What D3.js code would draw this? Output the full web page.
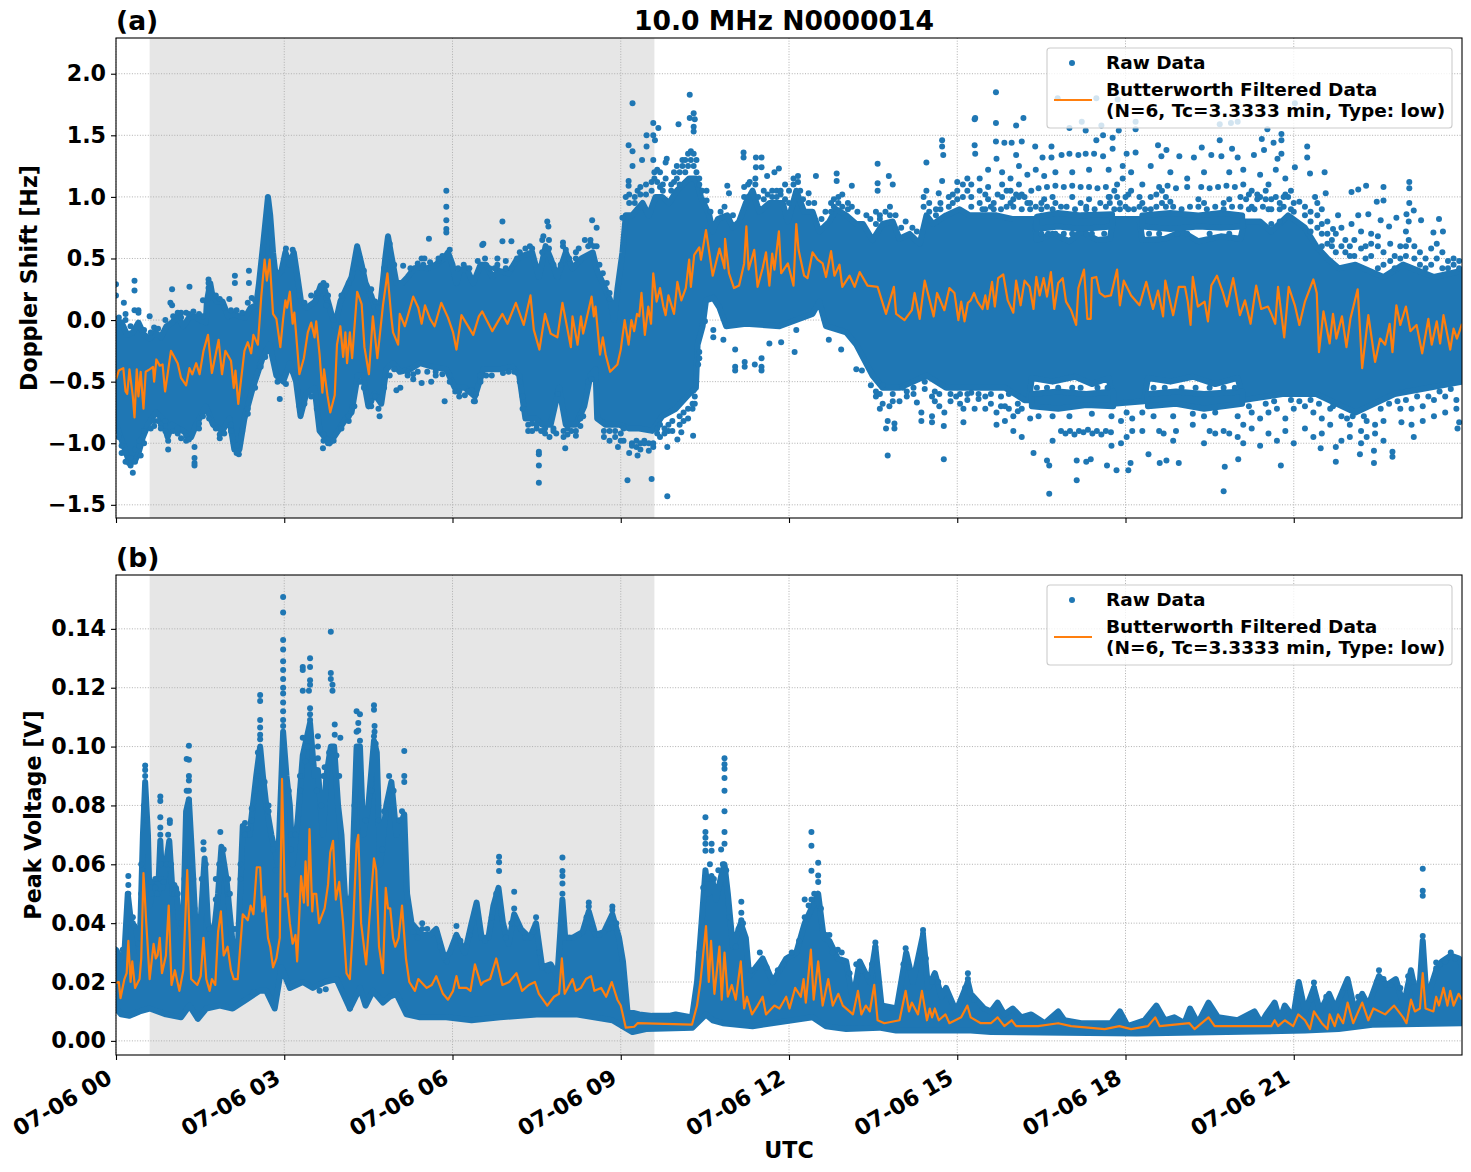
<!DOCTYPE html>
<html>
<head>
<meta charset="utf-8">
<script src="https://cdn.jsdelivr.net/npm/d3@7"></script>
<style>
html,body{margin:0;padding:0;background:#fff}
text{font-family:"DejaVu Sans",sans-serif;font-weight:700;fill:#000}
</style>
</head>
<body>
<svg id="fig" width="1471" height="1172"></svg>
<script>
// Time axis, hours of the day
const hourTicks = [0,3,6,9,12,15,18,21];
const hourLabels = ["07-06 00","07-06 03","07-06 06","07-06 09","07-06 12","07-06 15","07-06 18","07-06 21"];
const spanHours = [0.6,9.6];
const dopplerTicks = [2,1.5,1,0.5,0,-0.5,-1,-1.5];
const voltageTicks = [0.14,0.12,0.10,0.08,0.06,0.04,0.02,0];

// Doppler shift: upper and lower edge of the densely packed raw samples [hour, Hz]
const denseTopA = [[0,-.05],[.1,-.02],[.2,-.12],[.3,-.1],[.4,-.02],[.5,-.12],[.6,-.15],[.7,-.1],[.8,-.14],[.9,-.05],[1,-.02],[1.1,.03],[1.2,-.05],[1.3,.02],[1.4,.03],[1.5,0],[1.6,-.02],[1.62,.15],[1.68,.3],[1.72,.2],[1.8,.15],[1.9,.15],[2,.03],[2.1,.05],[2.2,.03],[2.3,.02],[2.4,.1],[2.5,.12],[2.55,.3],[2.62,.6],[2.71,1],[2.75,.85],[2.8,.55],[2.85,.35],[2.95,.4],[3.02,.55],[3.1,.45],[3.17,.55],[3.22,.4],[3.3,.15],[3.4,.1],[3.55,.15],[3.65,.28],[3.72,.25],[3.8,.12],[3.9,-.05],[3.95,.05],[4,.15],[4.1,.25],[4.2,.35],[4.3,.6],[4.38,.45],[4.45,.3],[4.55,.2],[4.65,.05],[4.72,.15],[4.8,.5],[4.85,.68],[4.9,.55],[5,.3],[5.1,.3],[5.2,.35],[5.32,.42],[5.45,.43],[5.55,.42],[5.7,.45],[5.85,.5],[5.92,.55],[6,.45],[6.07,.3],[6.13,.4],[6.25,.42],[6.37,.3],[6.5,.45],[6.6,.45],[6.71,.35],[6.83,.4],[7,.38],[7.13,.48],[7.24,.52],[7.42,.55],[7.54,.35],[7.66,.6],[7.75,.5],[7.87,.35],[8.02,.55],[8.14,.42],[8.3,.5],[8.5,.55],[8.58,.4],[8.7,.28],[8.82,.15],[8.88,0],[8.94,.25],[9.03,.55],[9.09,.85],[9.2,.85],[9.39,.95],[9.5,.85],[9.62,1],[9.74,1],[9.86,.95],[10,1.05],[10.22,1.15],[10.34,1.15],[10.43,1],[10.58,.85],[10.64,.72],[10.73,.82],[10.9,.85],[11,.75],[11.11,.8],[11.23,.95],[11.35,1.05],[11.47,.88],[11.65,.95],[11.89,.95],[11.98,.8],[12.13,1.05],[12.27,.88],[12.42,.88],[12.54,.72],[12.72,.8],[12.84,.9],[13.02,.85],[13.2,.78],[13.32,.78],[13.49,.65],[13.67,.78],[13.85,.8],[13.97,.66],[14.15,.7],[14.33,.62],[14.45,.85],[14.57,.78],[14.8,.85],[15.04,.9],[15.22,.85],[15.4,.85],[15.7,.85],[16,.82],[16.38,.82],[16.42,.65],[16.7,.7],[17,.64],[17.2,.72],[17.5,.65],[17.72,.66],[17.78,.82],[18.25,.82],[18.3,.65],[18.7,.66],[19,.72],[19.3,.64],[19.7,.68],[20.05,.66],[20.12,.8],[20.4,.8],[20.6,.72],[20.9,.85],[21.2,.75],[21.4,.6],[21.6,.5],[21.8,.42],[22.1,.45],[22.6,.35],[22.95,.45],[23.5,.35],[24,.4]];
const denseBottomA = [[0,-.85],[.12,-1],[.21,-1.12],[.3,-1.15],[.39,-1.1],[.48,-.95],[.57,-.85],[.71,-.75],[.83,-.8],[.92,-.95],[1,-.85],[1.19,-.9],[1.34,-.95],[1.43,-.85],[1.6,-.7],[1.73,-.85],[1.9,-.9],[2.02,-.8],[2.11,-1.05],[2.2,-1.05],[2.29,-.8],[2.44,-.55],[2.62,-.3],[2.74,-.2],[2.86,-.45],[2.98,-.5],[3.1,-.35],[3.21,-.5],[3.29,-.78],[3.39,-.6],[3.54,-.55],[3.63,-.9],[3.81,-1],[3.96,-.9],[4.1,-.8],[4.2,-.75],[4.31,-.45],[4.4,-.45],[4.5,-.7],[4.61,-.6],[4.73,-.68],[4.82,-.4],[4.94,-.35],[5.06,-.42],[5.24,-.4],[5.42,-.35],[5.65,-.38],[5.89,-.4],[6.04,-.55],[6.22,-.55],[6.4,-.62],[6.55,-.4],[6.73,-.4],[6.83,-.4],[7.07,-.38],[7.19,-.45],[7.3,-.8],[7.48,-.8],[7.6,-.85],[7.75,-.85],[7.9,-.55],[8.02,-.85],[8.2,-.85],[8.35,-.7],[8.46,-.45],[8.55,-.4],[8.58,-.8],[8.73,-.85],[8.97,-.85],[9.15,-.88],[9.33,-.88],[9.56,-.9],[9.74,-.78],[9.98,-.72],[10.22,-.6],[10.34,-.55],[10.37,-.2],[10.46,-.05],[10.52,.16],[10.65,.18],[10.76,.1],[10.88,-.05],[11.23,-.03],[11.83,-.05],[12.42,.05],[12.54,.15],[12.66,-.05],[13.02,-.1],[13.2,-.2],[13.49,-.45],[13.67,-.55],[13.97,-.55],[14.21,-.5],[14.45,-.45],[14.8,-.55],[15.4,-.55],[15.85,-.55],[16.2,-.65],[16.28,-.65],[16.33,-.47],[16.7,-.5],[17.1,-.46],[17.4,-.52],[17.7,-.47],[17.78,-.68],[18.33,-.66],[18.4,-.47],[18.8,-.5],[19.2,-.46],[19.6,-.52],[20,-.47],[20.1,-.65],[20.8,-.6],[21.4,-.6],[22.1,-.75],[22.8,-.6],[24,-.5]];
// Doppler shift: rows of samples that stand apart from the central mass [hour, top, bottom]
const stripeTopA = [[16.42,.84,.74],[16.8,.87,.76],[17.2,.85,.74],[17.76,.86,.76]];
const stripeTopA2 = [[18.3,.85,.76],[18.8,.87,.74],[19.3,.85,.76],[19.7,.87,.75],[20.08,.85,.76]];
const stripeBottomA = [[16.33,-.6,-.7],[16.8,-.58,-.72],[17.3,-.6,-.69],[17.78,-.58,-.7]];
const stripeBottomA2 = [[18.4,-.6,-.7],[18.9,-.58,-.68],[19.4,-.6,-.72],[20.08,-.58,-.68]];

// Doppler shift: separately visible samples, each row is [hour, value, value, ...]
const sparseA = [[0,.29,.2],[.33,.32,.24,.08],[.14,.14],[.4,.08,.06],[.17,.05],[.6,.03],[1,.25,.12],[.97,.14],[1.31,.27],[1.65,.33,.3,.26],[1.55,.16],[2.12,.36,.3],[2.37,.4,.3],[2.02,.17],[2.42,.18],[1.16,.06],[.3,-1.24],[.23,-1.16],[.44,-1.1],[.35,-1.13],[.93,-.98,-1.05],[1.4,-1.03,-1.12,-1.16,-1.18],[2.19,-1.09],[2.92,-.64],[3.69,-1.04],[4.7,-.78],[3.75,.28,.18,.12],[5.58,.66],[5.89,1.05,.92,.81,.74,.71],[5.95,.57],[6.55,.62],[5.86,-.66],[6.4,-.66],[6.22,-.61],[6.34,-.57],[5,-.57],[5.07,-.55],[5.45,-.51],[5.62,-.5],[5.12,.44],[6.79,.42],[5.45,.5],[5.5,.5],[6.89,.8,.64],[7.05,.64],[6.53,.61],[7.69,.8],[7.71,.76],[8.49,.81],[8.57,.75,.6],[8.36,.65],[7.42,.58],[8.02,.57],[7.54,-1.32,-1.18,-1.09,-1.07],[7.73,-.95],[8.01,-1.04],[7.85,-.92],[9.12,-1.3],[9.55,-1.29],[9.83,-1.43],[9.15,-1.08],[9.3,-1.1],[8.95,-1.03],[10.29,-.94],[9.83,-1.03],[10.01,-.97],[10.08,-.91],
[10.23,1.83,1.64],[9.21,1.76,1.37,1.25],[10.3,1.68,1.57,1.53],[10.32,1.63],[9.58,1.6,1.5,1.3],[9.67,1.56],[10.03,1.59],[9.46,1.5,1.41],[9.61,1.46],[9.14,1.42,1.13,1.09],[9.38,1.3],[9.82,1.31],[9.09,1],[9.03,.83],[10.53,1.05,.97],[10.9,1.09],[10.93,1.03],[11.19,1.36,1.32],[11.41,1.32,1.24],[11.51,1.32,1.24],[11.74,1.2],[11.82,1.23],[11.61,1.17],[12.48,1.17],[12.85,1.19,1.13],[13.12,1.09],[13.58,1.27,1.11,1.05],[13.78,1.17],[13.85,1.1],[14.45,1.28,1.05],[14.73,1.46,1.41,1.13],[14.75,1.34],[15.31,1.63,1.42],[14.67,1.03],
[10.4,-.26,-.31],[10.38,-.36],[10.3,-.57],[10.5,-.01],[10.65,-.08,-.14],[10.83,-.16],[11.04,-.24,-.38,-.41],[11.21,-.34,-.38],[11.39,-.36],[11.51,-.31,-.38,-.41],[12.1,-.26],[12.13,-.08],[11.65,-.19],[11.86,-.18],[12.71,-.16],[12.93,-.24],[13.2,-.4],[13.3,-.41],[13.46,-.53],[13.67,-.53,-.68],[13.76,-1.1,-.82],[13.88,-.84,-.88],[13.73,-.88],[13.79,-.7],[13.97,-.66],[14.03,-.55],[14.28,-.67],[14.36,-.75,-.82],[14.55,-.78,-.83,-.62],[14.76,-.86,-1.13],[14.77,-.75],[15.11,-.83,-.72],[15.31,-.72],[14.98,-.62],[15.25,-.59],
[15.69,1.85,1.6,1.45],[15.32,1.64,1.35],[16.05,1.58,1.34],[16.18,1.64],[15.84,1.44],[15.97,1.44],[16.15,1.45],[15.7,1.31],[16.39,1.41],[16.68,1.41,1.32],[16.52,1.32],[16.86,1.34],[17,1.35,1.56],[17.16,1.34],[17.29,1.35,1.54],[17.44,1.35],[17.6,1.33,1.5],[16.79,1.8],[17.22,1.61],[17.57,1.58],[17.48,1.8,1.46],[17.86,1.79],[17.77,1.48,1.39],[17.88,1.54],[18.18,1.61,1.55,1.36],[18.02,1.35],[18.58,1.42],[18.73,1.38],[18.64,1.33],[18.96,1.33],[19.36,1.4],[19.22,1.32],[19.68,1.46,1.59],[19.88,1.6],[20,1.61,1.32],[19.9,1.39],[19.53,1.34],[19.71,1.33],[20.53,1.55],[20.78,1.51,1.46,1.35],[21.02,1.76,1.24],[20.64,1.44],[20.43,1.47],[20.47,1.38],[20.29,1.34],[20.71,1.31],[21.24,1.41,1.32],[21.55,1.2],[21.29,1.19],
[16.45,1.07],[16.6,1.08],[16.75,1.09],[16.9,1.08],[17.05,1.09],[17.2,1.08],[17.35,1.08],[17.5,1.07],[17.65,1.08],[18.6,1.08],[18.75,1.09],[18.9,1.07],[19.1,1.08],[19.35,1.08],[19.5,1.07],[19.65,1.08],[19.8,1.09],[19.95,1.08],
[22.29,1.09],[22.6,1.08,.97],[23.06,1.12,1.07,.95],[22.03,1.04,.78],[22.15,1.06,.85],[21.57,1.03],[22.48,.96],[23.14,.89],[23.01,.86],[22.83,.83],[23.59,.82],[23.27,.81],[21.79,.85],[22.33,.86],[22.55,.81],[22.7,.76],[23.49,.71],[23.66,.72],[21.7,.74],[21.5,.9],[21.38,1],[20.9,1],[21.1,.96],
[15.4,1.15,1.05,.95],[15.55,1.22,1.08,.98],[15.6,.92],[15.8,1.2,1.1,1],[15.95,1.15,1.05,.95],[16.1,1.25,1.1,1],[16.25,1.18,.95],[16.32,1.05],[16.4,1.22],[16.55,1.17,.98],[16.75,1.2,.95],[17.05,1.2,1],[17.35,1.22,.98],[17.7,1.22,1],[17.85,1.1,1],[17.95,1.25,1.15],[18.1,1.2,1.05],[18.3,1.1,.95],[18.45,1.25,1],[18.8,1.2,.96],[19.1,1.15],[19.4,1.2,.95],[19.85,1.2,.98],[20.1,1.22,1.1],[20.25,1.05,.92],[20.4,1.18,1],[20.55,1.1,.9],[20.68,1.22,1],[20.85,1.15,1.02],
[16.64,-1.41,-1.18],[19.75,-1.39],[17.13,-1.3,-1.14],[16.6,-1.14],[16.36,-1.08],[17.3,-1.15],[17.38,-1.13],[17.67,-1.18],[17.84,-1.22],[18.05,-1.22],[18.09,-1.16],[18.41,-1.09],[18.61,-1.16],[18.73,-1.14],[18.95,-1.16],[19.77,-1.19],[20.01,-1.13],[20.77,-1.18],[21.75,-1.03,-1.15],[21.48,-1.04],[22.18,-1.09],[22.43,-1.06,-1.16],[22.76,-1.07,-1.11],[23.14,-.95],[22.92,-.83],[23.92,-.88],[23.95,-.83],
[16.85,-.9],[16.93,-.92],[17.01,-.9],[17.09,-.93],[17.17,-.9],[17.25,-.91],[17.33,-.89],[17.41,-.92],[17.49,-.9],[17.57,-.93],[17.65,-.9],[17.74,-.91],[18.6,-.9],[18.68,-.92],[18.9,-.9],[19.5,-.9],[19.6,-.92],[19.75,-.9],[19.85,-.92],[15.7,-.75,-.85],[15.85,-.7,-.82],[16,-.78,-.9],[16.15,-.72,-.95],[16.3,-.8],[16.45,-.78],[16.7,-.78,-.98],[17,-.78],[17.4,-.76],[17.75,-.78,-1.02],[17.92,-.82,-1],[18.02,-.75,-.95],[18.12,-.8,-.9],[18.3,-.75,-.9],[18.5,-.78],[18.85,-.78,-.98],[19.2,-.76,-.85],[19.4,-.78,-1],[19.6,-.75],[20,-.78,-.95],[20.1,-.85,-1],[20.25,-.75,-.88],[20.4,-.8,-1.02],[20.55,-.75,-.92],[20.7,-.72,-.98],[20.85,-.8,-.9],[21,-.72,-1],[21.2,-.7,-.88],[21.35,-.75,-.95],[21.5,-.8,-.92],[21.65,-.72,-.85],[21.85,-.78,-.98],[22,-.85,-.95],[22.2,-.9,-1],[22.3,-.82,-.95],[22.45,-.85,-.92],[22.6,-.82,-.98],[22.9,-.72],[23.1,-.72,-.85],[23.3,-.7,-.82],[23.5,-.65,-.78],[23.7,-.62,-.75],[23.9,-.65,-.72]];

// Doppler shift: samples along the rim of the dense band, each row is [hour, value, value, ...]
const rimA = [[.05,-.9,-.95,.02,-.02],[.1,-1.02,-1.08],[.17,-1.08,-1.15,0],[.26,-1.18,-1.12,-.05],[.34,-1.05,-1.15],[.42,-1.02,-.98],[.5,-.9,-1,-.08],[.62,-.88,-.1],[.68,-.82,-.86,-.06],[.75,-.82,-.07],[.8,-.85,-.88],[.88,-.82,-.9,0],[1.02,-.9,.03],[1.1,-.92,-.88,.06],[1.16,-.96,.02],[1.25,-.94,-.98,.06],[1.3,-.97,.05],[1.38,.07],[1.48,-.88,-.84,.05],[1.55,-.78,.03],[1.66,-.8],[1.78,-.88,.2],[1.85,-.93,-.96,.17],[1.93,-.92,.1],[2.05,-.9,-.85,.08],[2.15,-1.08,-1.02,.08],[2.25,-.9,.06],[2.35,-.72,-.76,.14],[2.48,-.55,.16],[2.58,-.38],[2.66,-.3],[2.88,-.5],[3.03,-.52,.58],[3.15,-.42,.57],[3.27,-.7,.2],[3.36,-.68,.14],[3.48,-.62,.2],[3.58,-.72,.22],[3.7,-.98,-.93,.3],[3.78,-1,.2],[3.88,-.98,0],[4.02,-.88,.2],[4.15,-.82,-.78,.3],[4.25,-.7,.42],[4.35,-.5,.5],[4.42,-.55,.4],[4.55,-.7,-.66,.25],[4.62,-.62,.15],[4.68,-.72,.1],[4.78,-.55,.42],[4.88,-.45,.62],[4.96,-.4,.45],
[5.2,-.42,-.45],[5.25,.42],[5.3,-.48,-.44],[5.38,.46,-.42],[5.48,.45],[5.55,-.42],[5.6,.47],[5.7,-.42,-.45],[5.75,.48,.5],[5.82,.52,-.44],[5.95,-.5,-.45],[6.05,-.58],[6.1,.42],[6.12,-.58,-.62],[6.2,.45],[6.28,-.58],[6.3,.42],[6.38,-.66],[6.42,-.6],[6.45,.48],[6.5,-.45,-.5],[6.58,.5],[6.6,-.45],[6.66,.42],[6.7,-.45],[6.75,.42],[6.8,.5,.45],[6.9,-.43],[6.95,.42,.48],[7,-.42],[7.05,.42],[7.1,-.42],[7.15,.5],[7.2,.55,-.5],[7.25,-.72,-.62],[7.3,.58],[7.35,-.85,-.9],[7.38,.6],[7.42,-.84,-.9],[7.48,.45],[7.5,-.88,-.85],[7.58,-.9],[7.6,.55,.65],[7.62,.68],[7.65,-.92,-.88],[7.72,.65,.58],[7.8,.45,-.9,-.88],[7.88,-.6],[7.93,.45],[7.97,.6,.63],[7.98,-.95,-.9],[8.05,-.88,-.93],[8.08,.5],[8.12,-.9],[8.2,.5,.55,-.9,-.94],[8.25,.58],[8.28,-.8,-.86],[8.33,-.78],[8.42,.6,-.5],[8.46,.62,.65],[8.48,-.48],[8.52,.6],[8.62,.45],[8.68,.38],[8.75,.3],[8.8,.22,.17],
[8.7,-.9,-.95],[8.8,-.9,-.98],[8.9,-.9,-.95],[9,-.92,-.98],[9.05,-.88,-.98],[9.2,-1,-1.02],[9.28,-.98,-1.03],[9.35,-1,-1.05],[9.42,-.98,-1],[9.5,-1,-1.06],[9.58,-1.03,-1],[9.65,-.88,-.92],[9.7,-.85,-.95],[9.78,-.92,-.88],[9.85,-.85,-.9],[9.92,-.82,-.9],[10.05,-.78,-.85],[10.12,-.75,-.82],[10.2,-.72,-.8],[10.28,-.68,-.72],[10.32,-.62,-.68],
[9.15,.95,1.02],[9.25,1,.95],[9.3,1.05],[9.35,1.02,1.08],[9.45,1.02,1.1],[9.55,1.05,1.12],[9.6,1.15,1.2],[9.65,1.12,1.22],[9.7,1.08,1.2],[9.75,1.1,1.05],[9.8,1.15,1.28],[9.9,1.05,1.1],[9.95,1.12,1.2],[10,1.15,1.25],[10.05,1.2,1.1],[10.1,1.25,1.3],[10.15,1.2,1.3],[10.2,1.25,1.35],[10.25,1.3,1.37],[10.3,1.25,1.35],[10.35,1.3,1.2],[10.4,1.1,1.15],[10.45,1.05],
[10.6,.88],[10.78,.88],[10.85,.92],[11,.85],[11.2,1,1.08],[11.27,1,1.1],[11.3,1.12],[11.4,1.1,1.15],[11.45,1],[11.55,.98,1.05],[11.62,1.02],[11.7,1,1.05],[11.78,1,1.05],[11.85,1.02,1.05],[11.93,.98,1.1],[12,.95,1.05],[12.08,1.1,1.15],[12.16,1.12,1.17],[12.2,1.05],[12.25,.98],[12.35,.95,1.03],[12.45,.95],[12.58,.82],[12.65,.88],[12.75,.88,.95],[12.8,.92,.98],[12.88,.95,1],[12.95,.92,1.02],[13.05,.95,.9],[13.12,.92],[13.22,.88],[13.38,.85],[13.45,.82],[13.55,.78,.88],[13.62,.85,.82],[13.72,.88],[13.8,.85,.92],[13.9,.85],[14,.75],[14.08,.8],[14.2,.75],[14.28,.72],[14.4,.92,1],[14.5,.95,.88],[14.62,.9,.85],[14.7,.95,.9],[14.85,.92,1],[14.92,1.02,.95],[15,1.05,.98,1.12],[15.1,1,1.1],[15.18,1.05,1.15],[15.25,1.1,1,.92],
[15.45,.9],[15.5,1.02,.9],[15.65,.95,.9],[15.72,1.02],[15.78,.9],[15.88,.92,1.05],[16,.92,.98],[16.05,1.02],[16.15,.9,1.02],[16.2,1],
[16.3,.9,.95],[16.4,.92],[16.5,.95,.9],[16.6,.92],[16.7,.9,1],[16.85,.92],[16.95,.92],[17.1,.9],[17.2,.95],[17.3,.92,.9],[17.45,.9],[17.55,.95],[17.65,.92],[17.72,.95,1],[17.8,.9,1.05],[17.9,.9,.95],[18,.92,1],[18.05,1.02,.9],[18.15,.9],[18.25,.92,1],[18.35,.9],[18.45,.9],[18.55,.92,1.02],[18.65,1.05,.95],[18.72,.92,1],[18.85,.92],[19,.9],[19.15,.92],[19.3,.92,.98],[19.45,.9],[19.6,.92],[19.75,.95,.9],[19.9,.92],[20.05,.92,1],[20.15,.98],[20.2,.9,1.02],[20.3,.9],[20.35,.98,1.02],[20.45,.92],[20.5,.98,1.05],[20.6,.9,.98,.78],[20.75,.9,.95,.8],[20.82,1,.92],[20.95,.9,1.05],[21,.95,.88],[21.2,.85,.92],[21.3,.8,.88,.72],[21.42,.85,.75,.95],[21.5,.78,.7,.6],[21.6,.62,.7,.8],[21.68,.6,.65],[21.75,.55,.7],[21.85,.6,.75],[21.92,.55,.65],[22,.6,.52],[22.08,.65,.52],[22.2,.58,.72],[22.28,.6,.5],[22.38,.52,.7,.62],[22.5,.6,.42,.68],[22.6,.55,.45],[22.72,.62,.48],[22.8,.52,.42],[22.9,.6,.5],[23,.72,.6,.52],[23.05,.8,.65],[23.15,.6,.5],[23.25,.55,.45],[23.35,.5,.42],[23.45,.58,.45],[23.55,.62,.5],[23.65,.55,.42],[23.75,.48,.42],[23.85,.45,.5],[23.95,.42,.48],
[16.5,.7],[16.62,.7],[16.75,.7],[16.9,.7],[17.05,.7],[17.3,.7],[17.4,.7],[17.62,.7],[18.42,.7],[18.6,.7],[18.92,.7],[19.1,.7],[19.5,.7],[19.85,.7],
[16.42,-.55],[16.6,-.55],[16.8,-.55],[17.05,-.55],[17.2,-.55],[17.5,-.55],[17.68,-.55],[18.5,-.55],[18.7,-.55],[19,-.55],[19.25,-.55],[19.5,-.55],[19.75,-.55],[19.95,-.55],
[13.55,-.58,-.62],[13.62,-.6,-.72],[13.85,-.6,-.66],[14.1,-.58,-.62],[14.22,-.55,-.6],[14.42,-.5,-.56],[14.6,-.58,-.66],[14.68,-.6,-.7],[14.88,-.6,-.66],[15.05,-.6,-.68],[15.18,-.6,-.65],[15.38,-.6,-.64],[15.5,-.62,-.72],[15.6,-.6,-.68],[15.78,-.62,-.7],[15.92,-.6,-.72],[16.08,-.68,-.74],[20.2,-.7],[20.5,-.68],[20.65,-.66],[20.95,-.65],[21.1,-.66],[21.3,-.65],[21.45,-.68],[21.7,-.7],[21.95,-.8],[22.05,-.78],[22.25,-.78],[22.55,-.72],[22.7,-.68],[22.85,-.66],[23,-.65],[23.2,-.62],[23.4,-.62],[23.6,-.58],[23.8,-.56]];

// Doppler shift: low-pass filtered series [hour, Hz]
const filteredA = [[0,-.48],[.05,-.41],[.13,-.39],[.17,-.58],[.2,-.6],[.24,-.4],[.3,-.62],[.33,-.79],[.37,-.4],[.4,-.62],[.44,-.42],[.49,-.72],[.53,-.42],[.6,-.4],[.66,-.38],[.68,-.5],[.72,-.32],[.78,-.37],[.83,-.36],[.875,-.58],[.98,-.25],[1.1,-.35],[1.16,-.47],[1.25,-.53],[1.31,-.39],[1.36,-.44],[1.43,-.35],[1.49,-.44],[1.56,-.25],[1.64,-.12],[1.71,-.43],[1.83,-.16],[1.89,-.44],[1.95,-.25],[2.05,-.33],[2.1,-.55],[2.13,-.41],[2.18,-.68],[2.29,-.25],[2.35,-.18],[2.41,-.27],[2.45,-.12],[2.53,-.2],[2.59,.19],[2.65,.49],[2.69,.32],[2.74,.49],[2.8,.05],[2.86,.01],[2.93,-.22],[2.98,.01],[3.02,.16],[3.05,.1],[3.1,.23],[3.15,-.03],[3.18,.06],[3.27,-.44],[3.35,-.31],[3.42,-.1],[3.48,-.02],[3.54,-.14],[3.57,-.01],[3.63,-.28],[3.68,-.59],[3.71,-.4],[3.77,-.61],[3.82,-.75],[3.9,-.61],[3.94,-.2],[4,-.05],[4.05,-.3],[4.09,-.1],[4.12,-.35],[4.17,-.1],[4.21,-.31],[4.3,.23],[4.38,.13],[4.43,-.22],[4.51,-.44],[4.58,.03],[4.66,-.31],[4.76,.12],[4.84,.38],[4.91,.02],[4.94,-.1],[5.03,-.2],[5.06,.05],[5.15,-.05],[5.3,.19],[5.39,.1],[5.45,-.03],[5.51,.12],[5.6,.01],[5.68,-.05],[5.8,.14],[5.92,.02],[6.01,-.1],[6.07,-.24],[6.16,.04],[6.37,-.12],[6.47,.03],[6.53,.07],[6.71,-.09],[6.89,.05],[6.98,-.03],[7.13,.14],[7.27,-.04],[7.39,.2],[7.45,-.08],[7.55,-.24],[7.65,.05],[7.75,-.11],[7.87,-.14],[7.96,.14],[8.11,-.22],[8.14,.03],[8.23,-.2],[8.29,.03],[8.33,-.11],[8.48,.19],[8.52,.03],[8.55,.11],[8.63,-.28],[8.68,-.14],[8.73,-.28],[8.81,-.42],[8.94,-.36],[9,-.24],[9.07,0],[9.14,-.2],[9.19,0],[9.24,-.09],[9.29,.05],[9.33,.03],[9.37,.22],[9.43,-.12],[9.49,.11],[9.54,-.03],[9.58,.38],[9.64,.15],[9.7,.26],[9.76,.11],[9.8,.04],[9.85,.2],[9.95,.05],[10.01,.31],[10.08,.16],[10.16,.26],[10.22,.49],[10.25,.27],[10.31,.53],[10.4,.59],[10.43,.49],[10.52,.73],[10.64,.36],[10.76,.58],[10.85,.42],[10.86,.66],[10.93,.38],[11.02,.26],[11.11,.28],[11.2,.46],[11.24,.76],[11.28,.41],[11.38,.57],[11.44,.27],[11.53,.42],[11.59,.55],[11.65,.28],[11.7,.54],[11.74,.41],[11.82,.72],[11.86,.38],[11.98,.46],[12.08,.28],[12.13,.78],[12.17,.57],[12.27,.36],[12.33,.34],[12.42,.55],[12.51,.49],[12.6,.46],[12.66,.35],[12.75,.56],[12.81,.36],[12.9,.45],[12.95,.27],[13.08,.36],[13.17,.27],[13.26,.39],[13.4,.28],[13.58,.27],[13.73,.05],[13.87,.27],[13.91,.05],[14.06,0],[14.19,.08],[14.24,.22],[14.33,.01],[14.42,.32],[14.58,.03],[14.64,.22],[14.77,.08],[14.86,.26],[14.95,.22],[15.02,0],[15.07,.15],[15.13,-.01],[15.19,.14],[15.24,.16],[15.3,.22],[15.36,.15],[15.45,.09],[15.5,.2],[15.54,.09],[15.62,.31],[15.67,.11],[15.73,.34],[15.82,.37],[15.9,.16],[16,.06],[16.05,.32],[16.13,.12],[16.2,.32],[16.29,.27],[16.36,.09],[16.41,.35],[16.47,.2],[16.54,.34],[16.6,.19],[16.67,.39],[16.73,.09],[16.8,.3],[16.88,.34],[16.94,.15],[17.03,.08],[17.12,-.04],[17.16,.26],[17.26,.41],[17.32,.01],[17.38,.01],[17.4,.34],[17.48,.35],[17.54,.22],[17.63,.19],[17.74,.2],[17.85,.41],[17.9,.12],[17.97,.32],[18.1,.2],[18.25,.12],[18.37,.31],[18.49,.09],[18.58,.24],[18.67,.03],[18.71,.32],[18.85,.04],[18.95,.27],[19.06,.27],[19.11,.15],[19.16,-.04],[19.2,.35],[19.29,.11],[19.41,.15],[19.47,-.01],[19.53,.28],[19.63,.36],[19.74,.22],[19.81,.11],[19.92,.34],[20.04,.04],[20.13,.16],[20.23,-.03],[20.33,.28],[20.42,.09],[20.54,.11],[20.6,.05],[20.67,-.03],[20.72,.27],[20.83,-.14],[20.91,.27],[21.02,.12],[21.1,-.04],[21.2,.15],[21.35,.33],[21.41,.22],[21.45,-.26],[21.53,.07],[21.64,-.19],[21.7,.05],[21.76,-.15],[21.86,.03],[21.94,-.22],[22.01,.01],[22.14,.25],[22.22,-.39],[22.33,.04],[22.45,-.34],[22.54,-.15],[22.63,-.2],[22.71,-.03],[22.76,-.26],[22.83,.12],[22.9,-.04],[23,.11],[23.08,-.09],[23.19,-.04],[23.29,-.27],[23.4,.01],[23.46,-.2],[23.55,-.01],[23.61,-.19],[23.67,.04],[23.79,-.24],[23.85,-.07],[23.91,-.15],[24,-.03]];

// Peak voltage: upper and lower edge of the densely packed raw samples [hour, V]
const denseTopB = [[0,.031],[.09,.028],[.15,.03],[.21,.05],[.27,.04],[.36,.038],[.42,.03],[.48,.07],[.52,.088],[.57,.07],[.6,.046],[.67,.054],[.75,.05],[.79,.068],[.83,.052],[.95,.068],[1.01,.05],[1.07,.052],[1.13,.04],[1.19,.034],[1.25,.078],[1.3,.082],[1.35,.065],[1.43,.035],[1.49,.035],[1.58,.062],[1.64,.04],[1.73,.034],[1.82,.05],[1.88,.066],[1.97,.055],[2.08,.033],[2.17,.03],[2.26,.073],[2.38,.07],[2.5,.09],[2.57,.1],[2.62,.09],[2.68,.08],[2.77,.07],[2.89,.06],[2.95,.09],[2.98,.105],[3.04,.09],[3.1,.08],[3.15,.06],[3.24,.075],[3.33,.097],[3.46,.108],[3.54,.09],[3.6,.092],[3.69,.07],[3.75,.09],[3.83,.1],[3.89,.1],[3.96,.08],[4.02,.07],[4.11,.04],[4.2,.05],[4.29,.1],[4.35,.1],[4.41,.07],[4.5,.08],[4.6,.102],[4.65,.098],[4.71,.06],[4.82,.08],[4.91,.088],[5,.07],[5.14,.077],[5.19,.05],[5.27,.04],[5.45,.036],[5.6,.036],[5.71,.038],[5.86,.028],[5.95,.03],[6.07,.036],[6.22,.03],[6.34,.04],[6.43,.047],[6.52,.035],[6.64,.035],[6.73,.046],[6.82,.052],[6.9,.04],[7,.033],[7.1,.043],[7.22,.038],[7.38,.035],[7.49,.04],[7.6,.025],[7.75,.026],[7.87,.022],[7.96,.048],[8.01,.035],[8.14,.035],[8.32,.037],[8.43,.044],[8.55,.036],[8.7,.037],[8.85,.043],[8.97,.035],[9.04,.027],[9.12,.01],[9.33,.009],[9.56,.0085],[9.86,.0085],[9.98,.009],[10.27,.008],[10.36,.02],[10.44,.04],[10.51,.058],[10.56,.05],[10.62,.056],[10.7,.048],[10.79,.056],[10.85,.06],[10.91,.05],[11,.032],[11.14,.04],[11.23,.035],[11.29,.022],[11.53,.028],[11.71,.02],[11.95,.028],[12.13,.03],[12.28,.04],[12.4,.045],[12.52,.05],[12.62,.035],[12.72,.034],[12.87,.028],[13.02,.027],[13.14,.014],[13.26,.027],[13.44,.02],[13.54,.032],[13.65,.012],[13.92,.011],[14.09,.03],[14.21,.02],[14.39,.036],[14.48,.018],[14.6,.023],[14.72,.015],[14.8,.018],[14.98,.01],[15.19,.02],[15.24,.016],[15.48,.011],[15.6,.01],[15.72,.013],[15.84,.009],[15.99,.011],[16.14,.008],[16.32,.009],[16.56,.006],[16.8,.01],[16.91,.007],[17.21,.006],[17.5,.006],[17.74,.006],[17.9,.01],[18.04,.005],[18.34,.007],[18.55,.012],[18.7,.007],[18.87,.008],[19.05,.006],[19.15,.011],[19.29,.006],[19.48,.013],[19.65,.008],[20,.007],[20.3,.01],[20.42,.006],[20.51,.009],[20.66,.013],[20.75,.007],[20.84,.012],[20.99,.008],[21.09,.02],[21.2,.01],[21.36,.018],[21.47,.01],[21.63,.016],[21.74,.011],[21.96,.021],[22.09,.01],[22.22,.016],[22.33,.012],[22.52,.022],[22.66,.019],[22.82,.021],[22.96,.012],[23.09,.024],[23.22,.012],[23.3,.034],[23.37,.014],[23.54,.024],[23.64,.027],[23.8,.029],[23.95,.028],[24,.025]];
const denseBottomB = [[0,.011],[.09,.009],[.24,.0085],[.42,.01],[.6,.011],[.89,.009],[1.16,.008],[1.31,.012],[1.46,.0075],[1.61,.011],[1.85,.012],[2.08,.011],[2.32,.014],[2.56,.017],[2.68,.017],[2.83,.011],[2.95,.025],[3.1,.018],[3.33,.02],[3.51,.018],[3.72,.02],[3.93,.021],[4.17,.011],[4.35,.018],[4.45,.012],[4.58,.017],[4.76,.013],[4.88,.015],[5,.016],[5.18,.009],[5.42,.008],[5.89,.008],[6.34,.007],[6.85,.008],[7.5,.009],[8.2,.009],[8.85,.007],[9.03,.005],[9.21,.003],[9.45,.004],[10.28,.0045],[10.52,.009],[10.64,.007],[10.82,.006],[11.35,.005],[12.42,.008],[12.66,.005],[13.02,.004],[13.61,.0045],[13.91,.0035],[15.24,.0035],[15.6,.003],[18.2,.0025],[21.2,.0035],[21.8,.004],[22.4,.0055],[24,.006]];

// Peak voltage: separately visible samples, each row is [hour, value, value, ...]
const sparseB = [[2.98,.1508,.1456,.1362,.133,.129,.126,.123,.12,.118,.115,.112,.109,.107],[3.83,.139,.125,.123],[3.86,.121,.119],[3.46,.13,.127,.1225,.121,.113,.111,.109],[3.44,.119],[3.33,.127,.126,.119,.103],[3.6,.1035,.1,.096],[2.57,.1175,.1155,.109,.1065,.104,.1025],[4.29,.112,.105],[4.35,.111,.102],[4.32,.108,.1055],[4.6,.114,.1125,.1035],[4.61,.107,.105],[4.63,.101],[3.9,.1075,.104],[4,.103],[5.14,.0985,.09,.088],[1.3,.1003,.0955,.09,.0885,.085,.082],[1.26,.0958,.085],[.52,.0936,.092,.09],[.79,.083,.0815,.076,.0725,.07],[.96,.075,.074],[1.56,.0675,.065],[1.86,.071],[.22,.056,.053,.05],[2.45,.0165],[3.63,.017],[3.74,.0175],[4.17,.011],[5.46,.04,.038],[6.07,.039],[6.25,.032],[6.83,.0626,.0607,.0577,.048],[7.1,.0507,.045],[7.49,.042],[7.96,.0623,.0577,.056,.0535,.05],[8.43,.047,.0457],[8.39,.042],[8.85,.0457,.0445,.04,.0385],[10.85,.096,.094,.0925,.0893,.085,.078,.071,.067],[10.51,.076,.071,.069,.067,.0646],[10.62,.067,.0646],[10.79,.065],[12.4,.071,.0663,.0578,.048],[12.52,.0605,.0562,.054],[12.28,.048,.042],[11.15,.0473,.0435,.041],[12.72,.036],[12.87,.031],[13.54,.0334,.032],[14.39,.0377,.0364],[14.08,.0315],[15.19,.023,.021],[23.3,.0585,.051,.0493,.0356],[22.52,.024],[23.54,.0266,.0247],[23.8,.03],[21.36,.0198,.018,.015]];

// Peak voltage: samples along the rim of the dense band, each row is [hour, value, value, ...]
const rimB = [[.12,.031],[.3,.042,.04],[.33,.039],[.4,.033],[.45,.05,.06],[.5,.08],[.55,.075],[.63,.05,.054],[.7,.055,.052],[.73,.05],[.8,.06,.055],[.85,.054],[.9,.06],[.93,.07],[.98,.06],[1.04,.053,.05],[1.1,.05],[1.16,.04],[1.22,.055],[1.28,.08],[1.38,.055],[1.4,.045],[1.53,.055],[1.6,.06],[1.67,.038],[1.78,.048,.055],[1.84,.06],[1.92,.065],[2,.055,.05],[2.03,.05],[2.12,.038],[2.22,.06,.055],[2.3,.07,.074],[2.35,.072],[2.42,.079,.075],[2.48,.085],[2.53,.09,.098],[2.65,.088],[2.72,.08,.078],[2.8,.065],[2.85,.058],[3.08,.085],[3.12,.07,.065],[3.2,.07],[3.28,.085,.09],[3.38,.095,.1],[3.42,.1],[3.5,.095],[3.58,.085],[3.66,.08],[3.7,.09],[3.72,.093],[3.8,.098],[3.93,.097],[3.98,.09],[4.07,.045],[4.16,.048],[4.25,.08],[4.45,.075],[4.55,.085],[4.68,.075],[4.75,.065],[4.78,.078],[4.87,.09],[4.95,.085],[5.05,.075],[5.1,.078],[5.22,.045],[5.3,.037],[5.38,.035],[5.55,.038],[5.78,.032],[5.9,.027],[6.14,.034],[6.3,.036],[6.4,.044],[6.58,.034],[6.7,.042],[6.78,.05],[6.95,.035],[7.05,.04],[7.15,.04],[7.3,.035],[7.44,.037],[7.55,.03],[7.7,.024],[7.93,.04],[8.08,.035],[8.25,.036],[8.5,.038],[8.62,.036],[8.78,.038],[8.92,.04],
[10.4,.03],[10.47,.052],[10.54,.055],[10.59,.06],[10.66,.055],[10.74,.058],[10.82,.06],[10.88,.058],[10.94,.042],[11.05,.032],[11.1,.038],[11.18,.04],[11.33,.024],[11.42,.025],[11.48,.03],[11.6,.025],[11.8,.024],[11.9,.026],[12.05,.03],[12.18,.034],[12.35,.046],[12.45,.05],[12.57,.045],[12.66,.036],[12.78,.03],[12.94,.03],[13.08,.023],[13.2,.026],[13.3,.024],[13.4,.022],[13.48,.026],[14.04,.026],[14.14,.025],[14.34,.03],[14.44,.028],[14.55,.02],[14.66,.02],[15.14,.018],[15.3,.014],[21.12,.016],[21.3,.014],[21.58,.015],[21.92,.018],[22.15,.015],[22.48,.02],[22.6,.021],[22.72,.019],[22.9,.018],[23.04,.022],[23.14,.02],[23.44,.015],[23.6,.026],[23.7,.027],[23.88,.028]];

// Peak voltage: low-pass filtered series [hour, V]
const filteredB = [[0,.0197],[.05,.02],[.08,.0145],[.15,.021],[.19,.023],[.22,.034],[.26,.02],[.29,.027],[.34,.018],[.42,.021],[.45,.028],[.49,.057],[.54,.04],[.6,.021],[.67,.033],[.71,.028],[.74,.029],[.78,.035],[.82,.023],[.89,.029],[.94,.046],[.99,.019],[1.05,.024],[1.13,.017],[1.2,.024],[1.27,.058],[1.34,.021],[1.45,.019],[1.51,.022],[1.56,.035],[1.61,.021],[1.67,.017],[1.71,.021],[1.77,.019],[1.82,.037],[1.87,.044],[1.92,.029],[1.99,.032],[2.05,.024],[2.1,.021],[2.17,.021],[2.26,.043],[2.35,.041],[2.4,.046],[2.45,.043],[2.51,.059],[2.57,.059],[2.61,.044],[2.65,.049],[2.71,.035],[2.75,.032],[2.8,.025],[2.86,.028],[2.92,.035],[2.96,.089],[3.01,.049],[3.05,.05],[3.1,.04],[3.15,.033],[3.2,.036],[3.23,.027],[3.3,.056],[3.35,.047],[3.38,.061],[3.42,.046],[3.45,.072],[3.5,.044],[3.52,.05],[3.57,.05],[3.62,.04],[3.72,.045],[3.78,.053],[3.82,.064],[3.87,.068],[3.92,.048],[3.98,.054],[4.05,.04],[4.11,.023],[4.17,.021],[4.23,.04],[4.29,.067],[4.32,.07],[4.37,.04],[4.46,.026],[4.52,.042],[4.6,.062],[4.64,.058],[4.69,.032],[4.76,.023],[4.81,.052],[4.85,.045],[4.89,.045],[4.94,.035],[4.98,.032],[5.04,.035],[5.1,.046],[5.17,.028],[5.23,.02],[5.33,.017],[5.39,.021],[5.54,.018],[5.63,.019],[5.71,.022],[5.83,.016],[5.92,.014],[6.01,.017],[6.07,.022],[6.12,.018],[6.25,.018],[6.32,.017],[6.4,.026],[6.51,.019],[6.55,.02],[6.67,.021],[6.78,.028],[6.89,.019],[7.01,.02],[7.14,.023],[7.24,.017],[7.36,.019],[7.47,.02],[7.54,.016],[7.69,.012],[7.81,.015],[7.9,.016],[7.95,.028],[8,.016],[8.14,.021],[8.2,.017],[8.29,.018],[8.38,.021],[8.47,.022],[8.53,.017],[8.65,.018],[8.74,.015],[8.84,.02],[8.94,.014],[9,.012],[9.09,.0045],[9.24,.0048],[9.3,.006],[10.27,.0055],[10.36,.012],[10.42,.02],[10.52,.039],[10.57,.02],[10.61,.034],[10.67,.016],[10.76,.032],[10.8,.014],[10.85,.03],[10.91,.015],[10.98,.019],[11.05,.014],[11.14,.027],[11.2,.011],[11.25,.015],[11.34,.009],[11.44,.012],[11.53,.015],[11.59,.009],[11.74,.012],[11.83,.011],[11.95,.015],[12.01,.011],[12.11,.018],[12.21,.015],[12.26,.021],[12.3,.013],[12.39,.031],[12.44,.014],[12.52,.027],[12.6,.012],[12.7,.021],[12.78,.012],[12.88,.016],[12.96,.012],[13.14,.009],[13.23,.017],[13.29,.009],[13.37,.012],[13.44,.01],[13.52,.019],[13.58,.007],[13.7,.006],[13.97,.007],[14.08,.017],[14.14,.01],[14.19,.013],[14.3,.009],[14.37,.017],[14.46,.007],[14.51,.011],[14.55,.008],[14.6,.011],[14.67,.007],[14.79,.009],[14.86,.006],[15.07,.008],[15.18,.012],[15.24,.008],[15.42,.006],[15.6,.006],[15.72,.008],[15.84,.005],[15.97,.007],[16.05,.005],[16.44,.005],[16.8,.006],[17.03,.005],[17.63,.004],[17.89,.005],[18.1,.004],[18.4,.005],[18.53,.008],[18.61,.005],[19.14,.006],[19.23,.004],[19.48,.008],[19.59,.005],[20,.005],[20.6,.005],[20.66,.007],[20.72,.005],[20.84,.007],[20.99,.005],[21.08,.009],[21.2,.007],[21.29,.004],[21.36,.01],[21.5,.006],[21.6,.004],[21.64,.009],[21.73,.005],[21.79,.009],[21.88,.006],[21.96,.013],[22.06,.006],[22.22,.013],[22.33,.007],[22.42,.011],[22.63,.009],[22.79,.012],[22.95,.008],[23.01,.006],[23.09,.014],[23.16,.01],[23.25,.011],[23.3,.023],[23.35,.011],[23.49,.01],[23.54,.015],[23.59,.012],[23.67,.018],[23.74,.012],[23.79,.017],[23.85,.012],[23.94,.016],[24,.014]];

const legendLines = ["Butterworth Filtered Data","(N=6, Tc=3.3333 min, Type: low)"];
const BLUE = "#1f77b4", ORANGE = "#ff7f0e";
const DOT_R = 3;

const svg = d3.select("#fig");
const left = 116, right = 1462;
const x = d3.scaleLinear().domain([0,24]).range([left,right]);

// One polygon from an upper edge and a reversed lower edge
function edgePolygon(g, y, top, bottom){
  const outline = top.concat(bottom.slice().reverse());
  g.append("path")
    .attr("d", d3.line().x(d=>x(d[0])).y(d=>y(d[1]))(outline)+"Z")
    .attr("fill",BLUE).attr("stroke",BLUE).attr("stroke-width",DOT_R*2).attr("stroke-linejoin","round");
}

// A row of samples set between two jagged edges; rows are [hour, top, bottom]
function stripePolygon(g, y, rows){
  edgePolygon(g, y, rows.map(r=>[r[0],r[1]]), rows.map(r=>[r[0],r[2]]));
}

function panel(cfg){
  const y = d3.scaleLinear().domain(cfg.domain).range([cfg.bottom,cfg.top]);
  const g = svg.append("g");
  const clipId = "clip"+cfg.name;
  svg.append("clipPath").attr("id",clipId).append("rect")
    .attr("x",left).attr("y",cfg.top).attr("width",right-left).attr("height",cfg.bottom-cfg.top);

  g.append("rect").attr("x",x(spanHours[0])).attr("y",cfg.top)
    .attr("width",x(spanHours[1])-x(spanHours[0])).attr("height",cfg.bottom-cfg.top)
    .attr("fill","#e6e6e6");

  // Dotted grid at every major tick
  const grid = g.append("g").attr("stroke","#b0b0b0").attr("stroke-width",1).attr("stroke-dasharray","1,1.65");
  hourTicks.forEach(h=>grid.append("line").attr("x1",x(h)).attr("x2",x(h)).attr("y1",cfg.top).attr("y2",cfg.bottom));
  cfg.ticks.forEach(v=>grid.append("line").attr("x1",left).attr("x2",right).attr("y1",y(v)).attr("y2",y(v)));

  const plot = g.append("g").attr("clip-path",`url(#${clipId})`);
  edgePolygon(plot, y, cfg.denseTop, cfg.denseBottom);
  (cfg.stripes||[]).forEach(s=>stripePolygon(plot, y, s));
  const pts = cfg.sparse.flatMap(r=>r.slice(1).map(v=>[r[0],v]));
  plot.append("g").selectAll("circle").data(pts).join("circle")
    .attr("cx",d=>x(d[0])).attr("cy",d=>y(d[1])).attr("r",DOT_R).attr("fill",BLUE);
  plot.append("path")
    .attr("d",d3.line().x(d=>x(d[0])).y(d=>y(d[1]))(cfg.filtered))
    .attr("fill","none").attr("stroke",ORANGE).attr("stroke-width",2.2).attr("stroke-linejoin","round");

  // Axes
  const axB = d3.axisBottom(x).tickValues(hourTicks).tickSize(5).tickPadding(5)
    .tickFormat((d,i)=>cfg.showX?hourLabels[i]:"");
  const gx = g.append("g").attr("transform",`translate(0,${cfg.bottom})`).call(axB);
  gx.select(".domain").remove();
  gx.selectAll("line").attr("stroke","#000").attr("stroke-width",1.1);
  if(cfg.showX){
    gx.selectAll("text").attr("font-size",22.2).attr("text-anchor","end")
      .attr("transform","translate(-16,0) rotate(-30)").attr("dx","-0.1em").attr("dy","0.9em");
  }
  const axL = d3.axisLeft(y).tickValues(cfg.ticks).tickSize(5).tickPadding(5).tickFormat(cfg.fmt);
  const gy = g.append("g").attr("transform",`translate(${left},0)`).call(axL);
  gy.select(".domain").remove();
  gy.selectAll("line").attr("stroke","#000").attr("stroke-width",1.1);
  gy.selectAll("text").attr("font-size",22.2);

  g.append("rect").attr("x",left).attr("y",cfg.top).attr("width",right-left).attr("height",cfg.bottom-cfg.top)
    .attr("fill","none").attr("stroke","#000").attr("stroke-width",1.1);

  svg.append("text").attr("x",left).attr("y",cfg.top-8).attr("font-size",26.6).text(cfg.tag);
  svg.append("text").attr("font-size",22.2).attr("text-anchor","middle")
    .attr("transform",`translate(${cfg.labelX},${(cfg.top+cfg.bottom)/2}) rotate(-90)`).text(cfg.ylabel);

  // Legend
  const lx = 1047, ly = cfg.top+10, lw = 405, lh = 80;
  const leg = svg.append("g");
  leg.append("rect").attr("x",lx).attr("y",ly).attr("width",lw).attr("height",lh).attr("rx",3)
    .attr("fill","#fff").attr("fill-opacity",0.8).attr("stroke","#ccc").attr("stroke-width",1.1);
  leg.append("circle").attr("cx",lx+25).attr("cy",ly+15).attr("r",DOT_R).attr("fill",BLUE);
  leg.append("line").attr("x1",lx+7).attr("x2",lx+45).attr("y1",ly+52).attr("y2",ly+52).attr("stroke",ORANGE).attr("stroke-width",2.2);
  leg.append("text").attr("x",lx+59).attr("y",ly+21).attr("font-size",18.5).text("Raw Data");
  legendLines.forEach((t,i)=>leg.append("text").attr("x",lx+59).attr("y",ly+48+i*21).attr("font-size",18.5).text(t));
}

panel({name:"a",tag:"(a)",top:38,bottom:518,domain:[-1.607,2.29],ticks:dopplerTicks,
  fmt:d=>d3.format(".1f")(d).replace("-","\u2212"),ylabel:"Doppler Shift [Hz]",labelX:37,showX:false,
  denseTop:denseTopA,denseBottom:denseBottomA,stripes:[stripeTopA,stripeTopA2,stripeBottomA,stripeBottomA2],
  sparse:sparseA.concat(rimA),filtered:filteredA});
panel({name:"b",tag:"(b)",top:575,bottom:1055,domain:[-0.0048,0.1583],ticks:voltageTicks,
  fmt:d3.format(".2f"),ylabel:"Peak Voltage [V]",labelX:41,showX:true,
  denseTop:denseTopB,denseBottom:denseBottomB,
  sparse:sparseB.concat(rimB),filtered:filteredB});

svg.append("text").attr("x",784).attr("y",30).attr("font-size",26.6).attr("text-anchor","middle").text("10.0 MHz N0000014");
svg.append("text").attr("x",789).attr("y",1158).attr("font-size",22.2).attr("text-anchor","middle").text("UTC");
</script>
</body>
</html>
